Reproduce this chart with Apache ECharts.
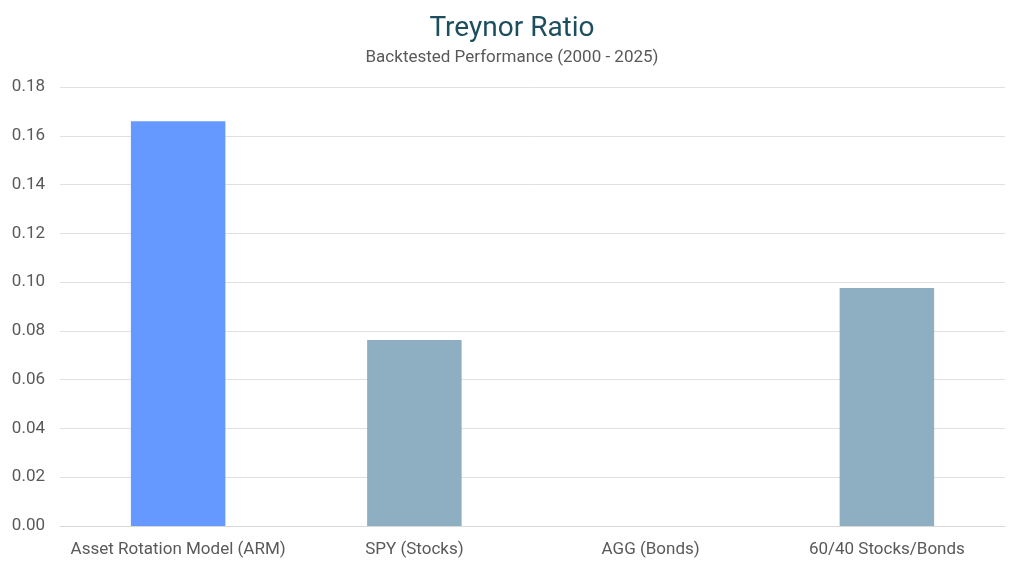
<!DOCTYPE html>
<html><head><meta charset="utf-8">
<script src="https://cdn.jsdelivr.net/npm/echarts@6/dist/echarts.min.js"></script>
<style>html,body{margin:0;padding:0;background:#fff}#c{width:1024px;height:569px}</style>
</head><body><div id="c"></div>
<script>
const categories = ['Asset Rotation Model (ARM)', 'SPY (Stocks)', 'AGG (Bonds)', '60/40 Stocks/Bonds'];
const values = [0.166, 0.0763, 0, 0.0976];
const barColors = ['#6699ff', '#8eafc2', '#8eafc2', '#8eafc2'];
const chart = echarts.init(document.getElementById('c'));
chart.setOption({
  animation: false,
  textStyle: { fontFamily: 'Roboto' },
  title: {
    text: 'Treynor Ratio',
    subtext: 'Backtested Performance (2000 - 2025)',
    left: 'center', top: 10, itemGap: 6,
    textStyle: { fontFamily: 'Roboto', fontSize: 28, fontWeight: 'normal', color: '#1d4e5e' },
    subtextStyle: { fontFamily: 'Roboto', fontSize: 17, color: '#595959' }
  },
  grid: { left: 60, right: 19, top: 87, bottom: 43 },
  xAxis: {
    type: 'category', data: categories,
    axisLine: { show: true, lineStyle: { color: '#d9d9d9' } },
    axisTick: { show: false },
    axisLabel: { color: '#595959', fontSize: 17, margin: 15, interval: 0 }
  },
  yAxis: {
    type: 'value', min: 0, max: 0.18, interval: 0.02,
    axisLabel: { color: '#595959', fontSize: 17, margin: 15, formatter: v => v.toFixed(2) },
    splitLine: { lineStyle: { color: '#e0e0e0' } },
    axisLine: { show: false }, axisTick: { show: false }
  },
  series: [{
    type: 'bar', barWidth: '40%',
    data: values.map((v, i) => ({ value: v, itemStyle: { color: barColors[i] } }))
  }]
});
</script></body></html>
